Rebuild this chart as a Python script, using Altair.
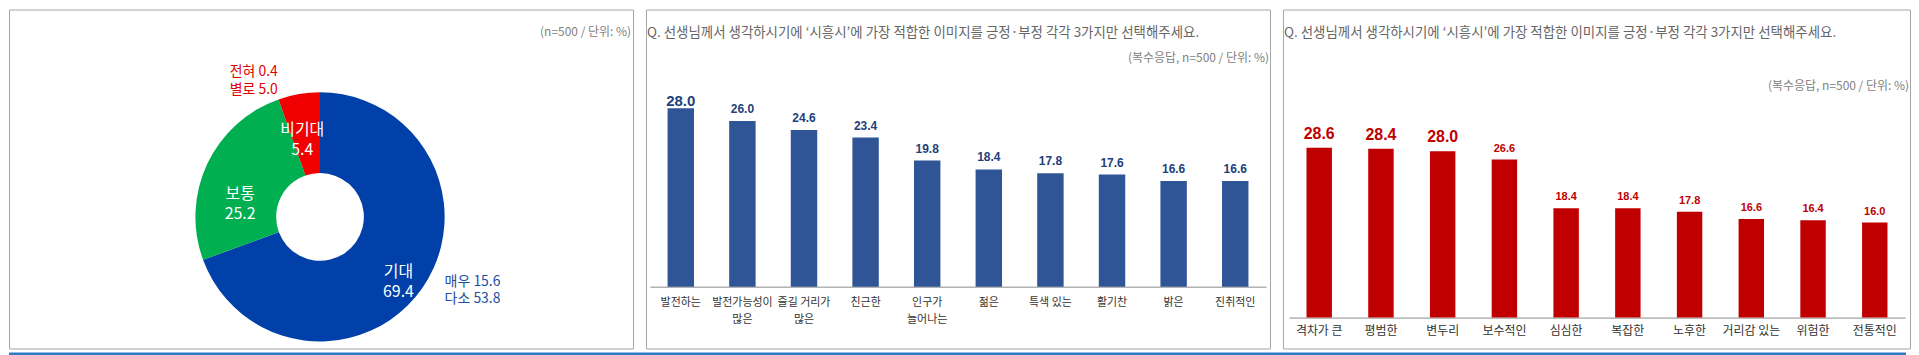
import altair as alt
import pandas as pd

FONT = "Noto Sans CJK KR"
NUMFONT = "Liberation Sans"

# ---------------- data ----------------
pie_cats = ["기대", "보통", "비기대"]
pie_vals = [69.4, 25.2, 5.4]
pie_colors = ["#0040A8", "#00B050", "#F00000"]
expect_sub_names = ["매우", "다소"]
expect_sub_vals = [15.6, 53.8]
nonexp_sub_names = ["전혀", "별로"]
nonexp_sub_vals = [0.4, 5.0]

pos_cats = ["발전하는", "발전가능성이\n많은", "즐길 거리가\n많은", "친근한", "인구가\n늘어나는",
            "젊은", "특색 있는", "활기찬", "밝은", "진취적인"]
pos_vals = [28.0, 26.0, 24.6, 23.4, 19.8, 18.4, 17.8, 17.6, 16.6, 16.6]

neg_cats = ["격차가 큰", "평범한", "변두리", "보수적인", "심심한", "복잡한", "노후한",
            "거리감 있는", "위험한", "전통적인"]
neg_vals = [28.6, 28.4, 28.0, 26.6, 18.4, 18.4, 17.8, 16.6, 16.4, 16.0]

question = "Q. 선생님께서 생각하시기에 ‘시흥시’에 가장 적합한 이미지를 긍정·부정 각각 3가지만 선택해주세요."
note_pie = "(n=500 / 단위: %)"
note_bar = "(복수응답, n=500 / 단위: %)"

H = 340
W1, W2, W3 = 626, 626, 629

# ---------------- pie panel ----------------
def sub_text(names, vals):
    return "\n".join(f"{n} {v:.1f}" for n, v in zip(names, vals))

pie_df = pd.DataFrame({
    "cat": pie_cats,
    "v": pie_vals,
    "ord": list(range(len(pie_cats))),
    "outer": [sub_text(expect_sub_names, expect_sub_vals), "", sub_text(nonexp_sub_names, nonexp_sub_vals)],
})

CX, CY = 312, 208
pie_base = alt.Chart(pie_df).encode(
    theta=alt.Theta("v:Q", stack=True),
    order=alt.Order("ord:Q"),
    x=alt.value(CX),
    y=alt.value(CY),
).transform_calculate(inner="datum.cat + '\\n' + format(datum.v, '.1f')")

arc = pie_base.mark_arc(outerRadius=125, innerRadius=44).encode(
    color=alt.Color("cat:N", scale=alt.Scale(domain=pie_cats, range=pie_colors), legend=None)
)


def pie_label(cat, field, radius, dx, dy, align, color, size, lh):
    return pie_base.transform_calculate(
        t=f"datum.cat == '{cat}' ? datum.{field} : ''"
    ).mark_text(
        radius=radius, dx=dx, dy=dy, align=align, baseline="middle", lineBreak="\n",
        font=FONT, fontSize=size, lineHeight=lh, color=color,
    ).encode(text="t:N")


pie_layers = [
    arc,
    pie_label("기대", "inner", 96, 0, 0, "center", "white", 16, 20),
    pie_label("보통", "inner", 83, -5, 12, "center", "white", 16, 20),
    pie_label("비기대", "inner", 88, -3, 0, "center", "white", 16, 20),
    pie_label("기대", "outer", 150, 2, -21, "left", "#1F4EA0", 14, 18),
    pie_label("비기대", "outer", 150, -17, 3, "right", "#E00000", 14, 18),
    alt.Chart(pd.DataFrame({"t": [note_pie]})).mark_text(
        align="right", baseline="middle", font=FONT, fontSize=12, color="#7F7F7F"
    ).encode(text="t:N", x=alt.value(W1 - 2), y=alt.value(23)),
]
pie_panel = alt.layer(*pie_layers).properties(width=W1, height=H)


# ---------------- bar panels ----------------
def bar_panel(cats, vals, W, rng, pad_inner, pad_outer, ydom, axis_offset,
              bar_color, lab_color, big_size, small_size, big_dy, small_dy,
              xlab_size, xlab_pad, note_y):
    df = pd.DataFrame({"cat": cats, "v": vals})
    x = alt.X(
        "cat:N", sort=None,
        scale=alt.Scale(domain=cats, range=rng, paddingInner=pad_inner, paddingOuter=pad_outer),
        axis=alt.Axis(
            title=None, orient="bottom", offset=axis_offset, ticks=False,
            domainColor="#8C8C8C", domainWidth=1, labelAngle=0,
            labelFont=FONT, labelFontSize=xlab_size, labelColor="#333333",
            labelPadding=xlab_pad, labelLineHeight=17, labelBaseline="top",
            labelOverlap=False, labelExpr="split(datum.label, '\\n')",
        ),
    )
    y = alt.Y("v:Q", scale=alt.Scale(domain=ydom, nice=False, zero=False), axis=None)
    base = alt.Chart(df).encode(x=x, y=y)
    bars = base.mark_bar(color=bar_color)
    big = base.transform_filter("datum.v >= 28").mark_text(
        baseline="alphabetic", dy=big_dy, font=NUMFONT, fontWeight="bold",
        fontSize=big_size, color=lab_color,
    ).encode(text=alt.Text("v:Q", format=".1f"))
    small = base.transform_filter("datum.v < 28").mark_text(
        baseline="alphabetic", dy=small_dy, font=NUMFONT, fontWeight="bold",
        fontSize=small_size, color=lab_color,
    ).encode(text=alt.Text("v:Q", format=".1f"))
    title = alt.Chart(pd.DataFrame({"t": [question]})).mark_text(
        align="left", baseline="middle", font=FONT, fontSize=13.5, color="#666666"
    ).encode(text="t:N", x=alt.value(1), y=alt.value(24))
    note = alt.Chart(pd.DataFrame({"t": [note_bar]})).mark_text(
        align="right", baseline="middle", font=FONT, fontSize=12, color="#7F7F7F"
    ).encode(text="t:N", x=alt.value(W - 1), y=alt.value(note_y))
    return alt.layer(bars, big, small, title, note).properties(width=W, height=H)


pos_panel = bar_panel(
    pos_cats, pos_vals, W2, [4, 622], 0.571, 0.2855, [-9.70, 43.5], -62,
    "#2F5597", "#22407A", 15, 12, -2, -8, 11, 10, 49,
)
neg_panel = bar_panel(
    neg_cats, neg_vals, W3, [6, 624], 0.588, 0.284, [-5.20, 51.85], -31,
    "#C00000", "#C00000", 16, 11, -9, -8, 12, 8, 77,
)

top = alt.hconcat(pie_panel, pos_panel, neg_panel, spacing=11)

strip = alt.Chart(pd.DataFrame({"a": [0]})).mark_rect(color="#2E7BC4").encode(
    x=alt.value(0), x2=alt.value(W1 + W2 + W3 + 22), y=alt.value(0), y2=alt.value(4)
).properties(width=W1 + W2 + W3 + 22, height=4, view=alt.ViewBackground(strokeOpacity=0))

chart = alt.vconcat(top, strip, spacing=3).properties(
    padding=0, background="white"
).configure_view(stroke="#A6A6A6", strokeWidth=1)

chart.save("out.html", embed_options={"renderer": "svg", "actions": False})
